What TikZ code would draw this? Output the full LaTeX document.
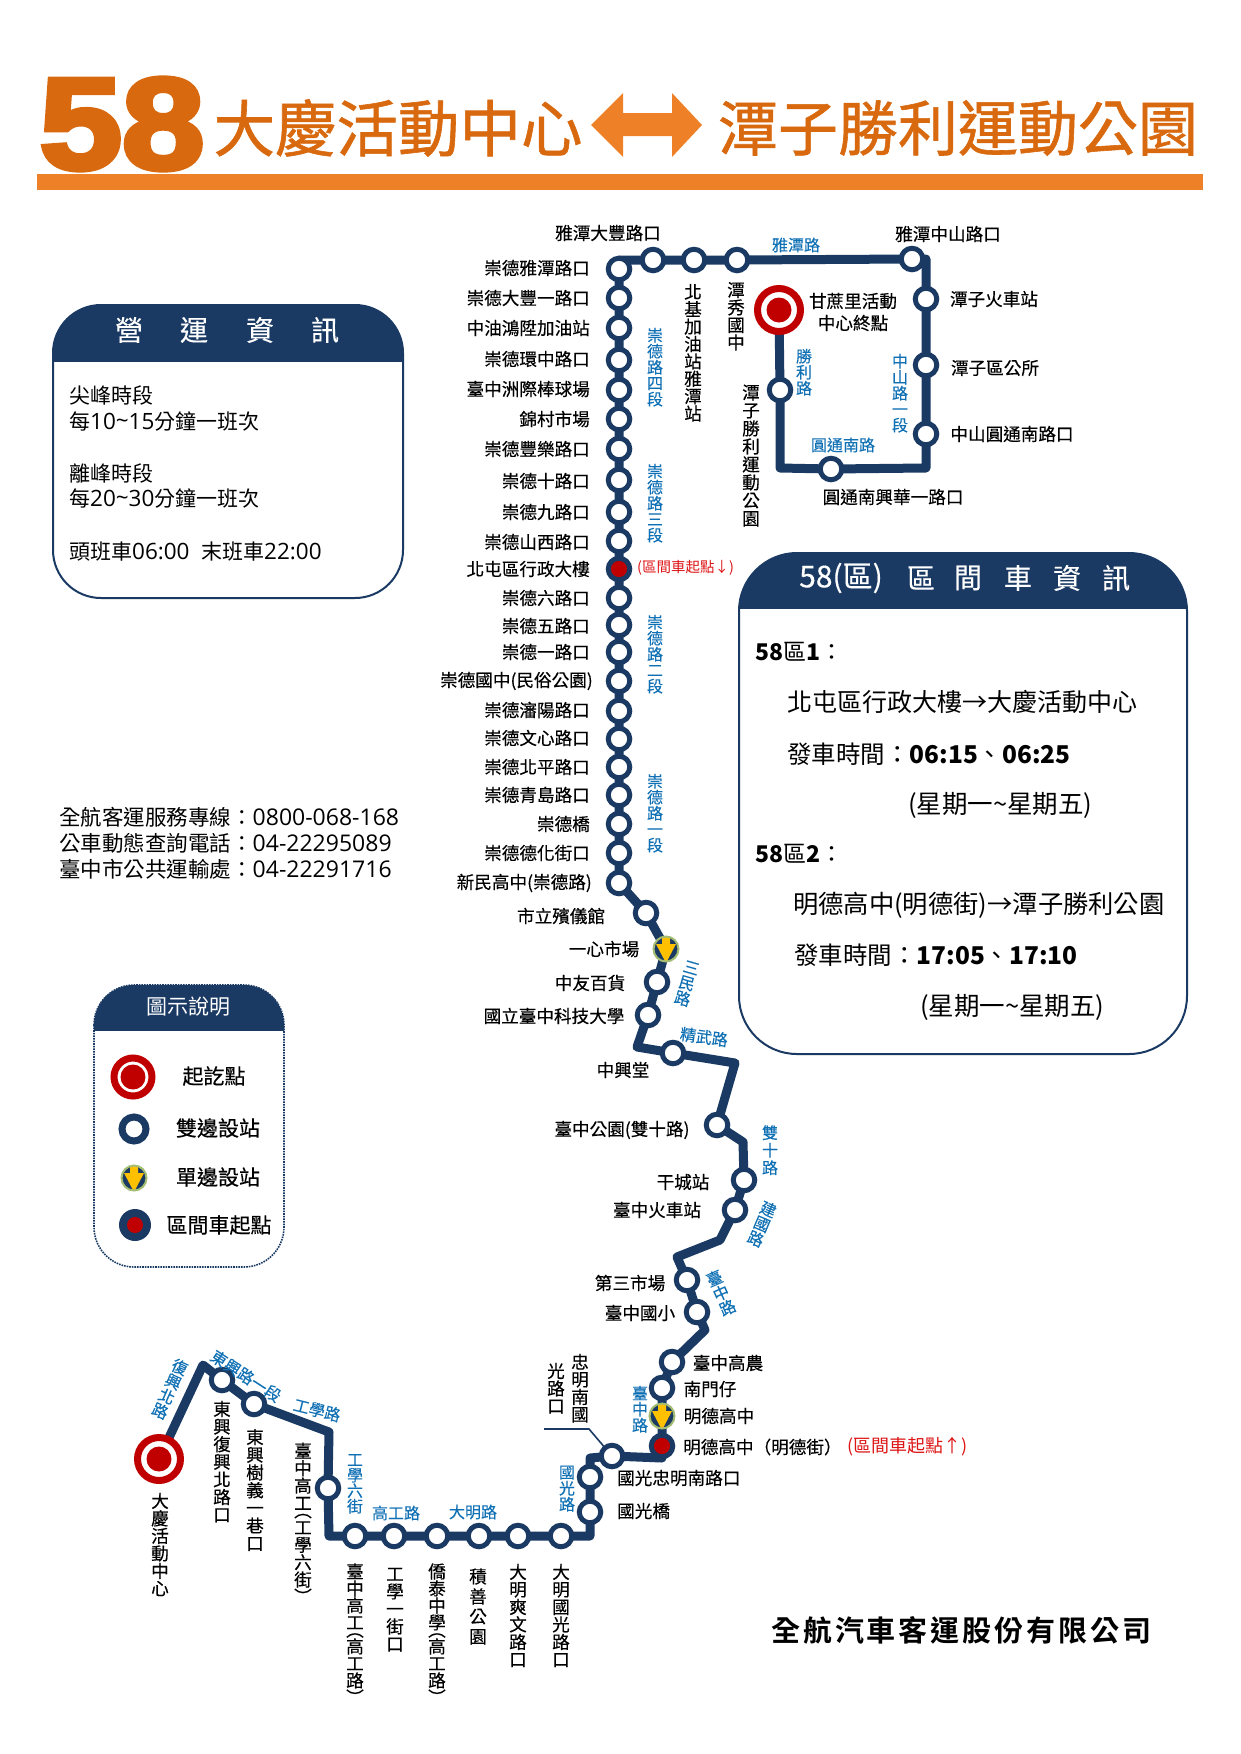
\documentclass[tikz,border=0pt]{standalone}
\usepackage{fontspec}
\usepackage{graphicx}
\usetikzlibrary{backgrounds}
\setmainfont{Noto Sans CJK TC}
\newfontfamily\bigfont[FakeBold=4]{Liberation Sans Bold}
\newfontfamily\ttlfont[FakeBold=1]{Noto Sans CJK TC}
\newfontfamily\labfont[FakeBold=.35]{Noto Sans CJK TC}
\newfontfamily\roadfont[FakeBold=.25]{Noto Sans CJK TC}
\newfontfamily\coname[LetterSpace=10]{Noto Sans CJK TC Bold}
\newfontfamily\dgf[Scale=1.07]{Open Sans}
\newcommand\dg[1]{{\dgf #1}}
\definecolor{navy}{HTML}{1A3A63}
\definecolor{termred}{HTML}{C00000}
\definecolor{roadblue}{HTML}{1070B4}
\definecolor{titleor}{HTML}{D8690F}
\definecolor{baror}{HTML}{EE8127}
\definecolor{yel}{HTML}{FFC000}
\definecolor{olive}{HTML}{A5BD72}
\definecolor{notered}{HTML}{DD1515}
\def\vup{︵}
\def\vdn{︶}
\makeatletter
\newcommand\vstack[2]{\edef\vlist{#2}\vbox{\offinterlineskip\expandafter\@tfor\expandafter\vc\expandafter:\expandafter=\vlist\do{\hbox to 24pt{\hss
  \ifx\vc\vup\raisebox{.1em}[7pt][0pt]{\vc}\else\ifx\vc\vdn\raisebox{-.45em}[7pt][0pt]{\vc}\else\raisebox{.12em}[#1pt][0pt]{\vc}\fi\fi\hss}}}}
\makeatother
\newcommand\fsz[1]{\fontsize{#1}{#1}\selectfont}
\tikzset{
 stn/.style={circle,draw=navy,line width=5pt,fill=white,minimum size=21.5pt,inner sep=0pt},
 term/.style={circle,draw=termred,line width=7pt,fill=white,minimum size=43pt,inner sep=0pt,
   path picture={\fill[termred] (path picture bounding box.center) circle (12.5pt);}},
 single/.style={circle,draw=olive,line width=2pt,fill=navy,minimum size=25pt,inner sep=0pt,
   path picture={\fill[yel] ([shift={(-4pt,14pt)}]path picture bounding box.center)
     -- ([shift={(4pt,14pt)}]path picture bounding box.center)
     -- ([shift={(4pt,5pt)}]path picture bounding box.center)
     -- ([shift={(10pt,5pt)}]path picture bounding box.center)
     -- ([shift={(0pt,-14pt)}]path picture bounding box.center)
     -- ([shift={(-10pt,5pt)}]path picture bounding box.center)
     -- ([shift={(-4pt,5pt)}]path picture bounding box.center) -- cycle;}},
 startpt/.style={circle,draw=navy,line width=5pt,fill=termred,minimum size=21.5pt,inner sep=0pt},
 route/.style={draw=navy,line width=9pt,line join=round,line cap=round},
 leader/.style={draw=navy,line width=1.6pt},
 lab/.style={inner sep=0pt,black,font=\labfont\fsz{17.6}},
 road/.style={inner sep=0pt,roadblue,font=\roadfont\fsz{16}},
 redn/.style={inner sep=0pt,notered},
 body/.style={inner sep=0pt,black,anchor=west},
 headt/.style={inner sep=0pt,white,font=\labfont\fsz{28}},
 boxline/.style={draw=navy,line width=2pt},
}
\begin{document}
\begin{tikzpicture}[x=1pt,y=-1pt]
\useasboundingbox (0,0) rectangle (1240,1754);

% title
\node[inner sep=0pt,titleor,font=\bigfont\fsz{130}] (t58) at (122,124) {\scalebox{1.14}[1]{58}};
\node[inner sep=0pt,titleor,font=\ttlfont\fsz{61.5}] (tA) at (398,128) {大慶活動中心};
\node[inner sep=0pt,titleor,font=\ttlfont\fsz{60}] (tB) at (958,128) {潭子勝利運動公園};
\fill[baror] (591,125) -- (623,93) -- (623,113) -- (672,113) -- (672,93) -- (702,125) -- (672,157) -- (672,136) -- (623,136) -- (623,157) -- cycle;
\fill[baror] (37,174) rectangle (1203,190);

% operating info box
\begin{scope}
 \clip (40,295) rectangle (415,361);
 \fill[navy,rounded corners=48pt] (53,305) rectangle (403,598);
\end{scope}
\draw[boxline,rounded corners=48pt] (53,305) rectangle (403,598);
\foreach \n/\x/\c in {a/129/營,b/194/運,c/260/資,d/325/訊}{\node[headt] (h\n) at (\x,330) {\c};}
\foreach \n/\y/\t in {a/395/尖峰時段,b/422/每\dg{10\raisebox{.05em}{\textasciitilde}15}分鐘一班次,c/473/離峰時段,d/499/每\dg{20\raisebox{.05em}{\textasciitilde}30}分鐘一班次,e/552/頭班車\dg{06:00\ \ }末班車\dg{22:00}}
 {\node[body,font=\fsz{21}] (o\n) at (69,\y) {\t};}

% contact lines
\node[body,font=\fsz{21.5}] (k1) at (59,817) {全航客運服務專線：\dg{0800-068-168}};
\node[body,font=\fsz{21.5}] (k2) at (59,843) {公車動態查詢電話：\dg{04-22295089}};
\node[body,font=\fsz{21.5}] (k3) at (59,869) {臺中市公共運輸處：\dg{04-22291716}};

% shuttle info box
\begin{scope}
 \clip (730,545) rectangle (1195,608);
 \fill[navy,rounded corners=58pt] (739,553) rectangle (1187,1054);
\end{scope}
\draw[boxline,rounded corners=58pt] (739,553) rectangle (1187,1054);
\node[headt,font=\labfont\fsz{30}] (qa) at (841,578) {58(區)};
\foreach \n/\x/\c in {b/921/區,c/968/間,d/1018/車,e/1067/資,f/1116/訊}{\node[headt] (q\n) at (\x,578) {\c};}
\node[body,font=\fsz{23}] (q1) at (755,652) {\textbf{58}區\textbf{1}：};
\node[body,font=\fsz{25}] (q2) at (787,702) {北屯區行政大樓→大慶活動中心};
\node[body,font=\fsz{24.5}] (q3) at (787,754) {發車時間：\textbf{06:15}、\textbf{06:25}};
\node[body,font=\fsz{25.5}] (q4) at (908,805) {(星期一\textasciitilde 星期五)};
\node[body,font=\fsz{23}] (q5) at (755,854) {\textbf{58}區\textbf{2}：};
\node[body,font=\fsz{25.3}] (q6) at (793,905) {明德高中(明德街)→潭子勝利公園};
\node[body,font=\fsz{24.5}] (q7) at (794,955) {發車時間：\textbf{17:05}、\textbf{17:10}};
\node[body,font=\fsz{25.5}] (q8) at (920,1007) {(星期一\textasciitilde 星期五)};

% legend
\begin{scope}
 \clip (85,978) rectangle (295,1030);
 \fill[navy,rounded corners=40pt] (94,985) rectangle (284,1267);
\end{scope}
\draw[navy,line width=1.6pt,densely dotted,rounded corners=40pt] (94,985) rectangle (284,1267);
\node[inner sep=0pt,white,font=\fsz{21}] (lg0) at (188,1007) {圖示說明};
\node[term,minimum size=38pt] (lg1) at (133,1077) {};
\node[stn,minimum size=24pt,line width=7pt] (lg2) at (134,1129) {};
\node[single] (lg3) at (134,1178) {};
\node[circle,fill=navy,minimum size=32pt,inner sep=0pt] (lg4) at (135,1225) {};
\node[circle,fill=termred,minimum size=16pt,inner sep=0pt] (lg4c) at (135,1225) {};
\node[inner sep=0pt,font=\labfont\fsz{21}] (lt1) at (214,1076) {起訖點};
\node[inner sep=0pt,font=\labfont\fsz{21}] (lt2) at (218,1128) {雙邊設站};
\node[inner sep=0pt,font=\labfont\fsz{21}] (lt3) at (218,1177) {單邊設站};
\node[inner sep=0pt,font=\labfont\fsz{21}] (lt4) at (219,1225) {區間車起點};

% stations
\node[term] (Tn) at (779,310) {};
\node[term] (Ts) at (159,1459) {};
\foreach \n/\x/\y in {
 e1/780/390,e2/831/469,e3/926/434,e4/926/365,e5/926/299,e6/912/259,
 e7/737/260,e8/694/260,e9/653/260,
 c01/619/269,c02/619/298,c03/619/328,c04/619/360,c05/619/390,c06/619/419,c07/619/449,c08/619/480,c09/619/512,c10/619/541,
 c12/619/598,c13/619/625,c14/619/652,c15/619/681,c16/619/711,c17/619/739,c18/619/767,c19/619/795,c20/619/824,c21/619/853,c22/619/883,
 m1/646/913,m3/657/982,m4/648/1015,m5/673/1053,m6/717/1125,m7/744/1180,m8/735/1210,m9/687/1280,m10/697/1312,m11/672/1362,m12/662/1388,
 g1/612/1456,g2/590/1477,g3/590/1512,
 b1/561/1536,b2/518/1536,b3/479/1536,b4/437/1536,b5/394/1536,b6/355/1536,
 w1/328/1488,w2/254/1404,w3/222/1380}
 {\node[stn] (\n) at (\x,\y) {};}
\node[startpt] (c11) at (619,569) {};
\node[startpt] (m14) at (662,1446) {};
\node[single] (m2) at (666,949) {};
\node[single] (m13) at (662,1416) {};

% route corners
\foreach \n/\x/\y in {k1/780/468,k2/926/468,k3/926/259,k4/619/260,k5/637/1047,k6/735/1063,k7/743/1142,k8/720/1240,k9/677/1257,k10/705/1330,k11/662/1458,k12/590/1458,k13/590/1536,k14/329/1536,k15/329/1432,k16/203/1365}
 {\coordinate (r\n) at (\x,\y);}
\coordinate (ld0) at (544,1429);
\coordinate (ld1) at (589,1429);

\begin{scope}[on background layer]
\draw[route] (Tn.center) -- (e1.center) -- (rk1) -- (e2.center) -- (rk2) -- (e3.center) -- (e4.center) -- (e5.center) -- (rk3) -- (e6.center) -- (e7.center) -- (e8.center) -- (e9.center) -- (rk4) -- (c01.center) -- (c22.center) -- (m1.center) -- (m2.center) -- (m3.center) -- (m4.center) -- (rk5) -- (m5.center) -- (rk6) -- (m6.center) -- (rk7) -- (m7.center) -- (m8.center) -- (rk8) -- (rk9) -- (m9.center) -- (m10.center) -- (rk10) -- (m11.center) -- (m12.center) -- (m13.center) -- (m14.center) -- (rk11) -- (g1.center) -- (rk12) -- (g2.center) -- (g3.center) -- (rk13) -- (b1.center) -- (b6.center) -- (rk14) -- (w1.center) -- (rk15) -- (w2.center) -- (w3.center) -- (rk16) -- (Ts.center);
\draw[leader] (ld0) -- (ld1) -- (g1.center);
\end{scope}

% labels east-aligned in the column
\foreach \n/\y/\t in {
 01/268/崇德雅潭路口,02/298/崇德大豐一路口,03/328/中油鴻陞加油站,04/359/崇德環中路口,05/389/臺中洲際棒球場,06/419/錦村市場,07/449/崇德豐樂路口,08/481/崇德十路口,09/512/崇德九路口,10/542/崇德山西路口,11/569/北屯區行政大樓,12/598/崇德六路口,13/626/崇德五路口,14/652/崇德一路口,16/710/崇德瀋陽路口,17/738/崇德文心路口,18/767/崇德北平路口,19/795/崇德青島路口,20/824/崇德橋,21/853/崇德德化街口}
 {\node[lab,anchor=east] (L\n) at (590,\y) {\t};}
\node[lab,anchor=east] (L15) at (593,681) {崇德國中(民俗公園)};
\node[lab,anchor=east] (L22) at (592,883) {新民高中(崇德路)};

% horizontal station labels
\foreach \n/\x/\y/\t in {
 a01/608/233/雅潭大豐路口,a02/948/234/雅潭中山路口,a03/994/299/潭子火車站,a04/995/368/潭子區公所,a05/1012/434/中山圓通南路口,a06/893/497/圓通南興華一路口,a07/853/301/甘蔗里活動,a08/853/323/中心終點,
 a09/561/916/市立殯儀館,a10/604/949/一心市場,a11/590/983/中友百貨,a12/554/1016/國立臺中科技大學,a13/623/1070/中興堂,a14/622/1130/臺中公園(雙十路),a15/683/1182/干城站,a16/657/1210/臺中火車站,a17/630/1283/第三市場,a18/640/1313/臺中國小,a19/728/1363/臺中高農,a20/710/1389/南門仔,a21/719/1416/明德高中}
 {\node[lab] (\n) at (\x,\y) {\t};}
\node[lab,anchor=west] (a22) at (683,1447) {明德高中（明德街）};
\node[lab,anchor=west] (a23) at (617,1478) {國光忠明南路口};
\node[lab,anchor=west] (a24) at (617,1511) {國光橋};

\node[redn,anchor=west,font=\fsz{14.5}] (n1) at (637,568) {(區間車起點↓)};
\node[redn,anchor=west,font=\fsz{18}] (n2) at (847,1447) {(區間車起點↑)};

% vertical station labels
\foreach \n/\x/\y/\p/\t in {
 v01/693/283/17.4/北基加油站雅潭站,v02/736/281/17.5/潭秀國中,v03/751/383/18/潭子勝利運動公園,
 v04/580/1353/17.5/忠明南國,v05/556/1362/17.5/光路口,
 v06/561/1563/17.5/大明國光路口,v07/518/1563/17.5/大明爽文路口,v08/478/1565/20/積善公園,v09/437/1563/17/僑泰中學︵高工路︶,v10/395/1565/17.5/工學一街口,v11/355/1563/17/臺中高工︵高工路︶,v12/303/1442/17.4/臺中高工︵工學六街︶,v13/255/1428/17.7/東興樹義一巷口,v14/222/1400/17.6/東興復興北路口,v15/160/1492/17.5/大慶活動中心}
 {\node[lab,anchor=north] (\n) at (\x,\y) {\vstack{\p}{\t}};}

% road names, vertical
\foreach \n/\x/\y/\p/\t in {
 r01/655/327/16/崇德路四段,r02/655/463/16/崇德路三段,r03/655/614/16/崇德路二段,r04/655/773/16/崇德路一段,r05/804/348/16/勝利路,r06/900/353/16/中山路一段,
 r07/770/1123/17.5/雙十路,r08/640/1385/16/臺中路,r09/567/1464/16/國光路,r10/355/1452/15.5/工學六街}
 {\node[road,anchor=north] (\n) at (\x,\y) {\vstack{\p}{\t}};}
% road names, tilted columns
\node[road,rotate=-16] (r11) at (687,983) {\vstack{16}{三民路}};
\node[road,rotate=-23] (r12) at (762,1224) {\vstack{16}{建國路}};
\node[road,rotate=24] (r13) at (721,1293) {\vstack{16}{臺中路}};
\node[road,rotate=-24] (r21) at (170,1389) {\vstack{16}{復興北路}};
% road names, horizontal
\node[road] (r14) at (796,245) {雅潭路};
\node[road] (r15) at (843,445) {圓通南路};
\node[road,rotate=-8] (r16) at (704,1037) {精武路};
\node[road] (r17) at (396,1513) {高工路};
\node[road] (r18) at (473,1512) {大明路};
\node[road,rotate=-14] (r19) at (317,1410) {工學路};
\node[road,rotate=-33] (r20) at (246,1376) {東興路一段};

% company
\node[inner sep=0pt,anchor=west,font=\coname\fsz{29}] (co) at (771,1630) {全航汽車客運股份有限公司};
\end{tikzpicture}
\end{document}
